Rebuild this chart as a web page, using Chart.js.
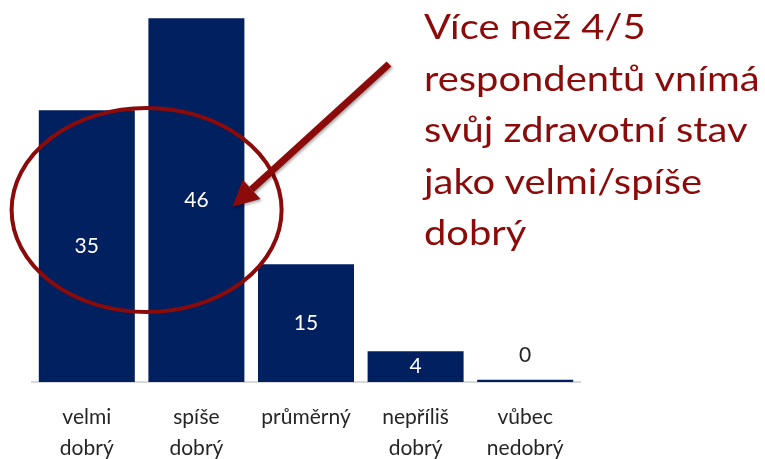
<!DOCTYPE html>
<html>
<head>
<meta charset="utf-8">
<script src="https://cdn.jsdelivr.net/npm/chart.js@4.4.0/dist/chart.umd.min.js"></script>
<style>
  html, body { margin: 0; padding: 0; background: #fff; }
  #wrap { position: relative; width: 765px; height: 459px; }
  #note {
    position: absolute; left: 424px; top: 0px;
    font-family: Lato, sans-serif; font-size: 35px; line-height: 51.5px;
    color: #8b0a0a; white-space: nowrap;
    transform: scaleX(1.14); transform-origin: left top;
  }
</style>
</head>
<body>
<div id="wrap">
  <canvas id="healthChart" width="765" height="459"></canvas>
  <div id="note">Více než 4/5<br>respondentů vnímá<br>svůj zdravotní stav<br>jako velmi/spíše<br>dobrý</div>
</div>
<script>
const categories = [['velmi', 'dobrý'], ['spíše', 'dobrý'], ['průměrný'], ['nepříliš', 'dobrý'], ['vůbec', 'nedobrý']];
const shares = [34.6, 46.3, 15.0, 3.9, 0.3];

const NAVY = '#002060';
const DARK_RED = '#8b0a0a';

// value labels (white inside bars, dark above the tiny one)
const barLabels = {
  id: 'barLabels',
  afterDatasetsDraw(chart) {
    const { ctx } = chart;
    const meta = chart.getDatasetMeta(0);
    ctx.save();
    ctx.font = '21px Lato, sans-serif';
    ctx.textAlign = 'center';
    ctx.textBaseline = 'middle';
    meta.data.forEach((bar, i) => {
      const v = shares[i];
      const txt = String(Math.round(v));
      if (v < 2) {
        ctx.fillStyle = '#262626';
        ctx.fillText(txt, bar.x, bar.y - 24);
      } else {
        ctx.fillStyle = '#ffffff';
        ctx.fillText(txt, bar.x, (bar.y + bar.base) / 2);
      }
    });
    ctx.restore();
  },
};

// red ellipse around the first two bars + arrow pointing at it
const highlight = {
  id: 'highlight',
  afterDraw(chart) {
    const { ctx, scales: { x, y } } = chart;
    const cx = (x.getPixelForValue(0) + x.getPixelForValue(1)) / 2 + 5;
    const cy = y.getPixelForValue(21.9);
    ctx.save();
    ctx.strokeStyle = DARK_RED;
    ctx.lineWidth = 4;
    ctx.beginPath();
    ctx.ellipse(cx, cy, 135, 102, 0, 0, Math.PI * 2);
    ctx.stroke();

    const x0 = 389, y0 = 64;
    const x1 = x.getPixelForValue(1) + 36, y1 = y.getPixelForValue(22.3);
    const ang = Math.atan2(y1 - y0, x1 - x0);
    const headLen = 26, headW = 13;
    const bx = x1 - headLen * Math.cos(ang), by = y1 - headLen * Math.sin(ang);
    ctx.shadowColor = 'rgba(0,0,0,0.35)';
    ctx.shadowBlur = 3;
    ctx.shadowOffsetX = 1.5;
    ctx.shadowOffsetY = 1.5;
    ctx.lineWidth = 7;
    ctx.lineCap = 'butt';
    ctx.beginPath();
    ctx.moveTo(x0, y0);
    ctx.lineTo(bx, by);
    ctx.stroke();
    ctx.fillStyle = DARK_RED;
    ctx.beginPath();
    ctx.moveTo(x1, y1);
    ctx.lineTo(bx + headW * Math.sin(ang), by - headW * Math.cos(ang));
    ctx.lineTo(bx - headW * Math.sin(ang), by + headW * Math.cos(ang));
    ctx.closePath();
    ctx.fill();
    ctx.restore();
  },
};

new Chart(document.getElementById('healthChart'), {
  type: 'bar',
  data: {
    labels: categories,
    datasets: [{
      data: shares,
      backgroundColor: NAVY,
      borderWidth: 0,
      barPercentage: 0.876,
      categoryPercentage: 1,
    }],
  },
  options: {
    responsive: false,
    animation: false,
    layout: { padding: { left: 32, right: 185, top: 5, bottom: 0 } },
    plugins: { legend: { display: false }, tooltip: { enabled: false } },
    scales: {
      x: {
        grid: { display: false },
        border: { color: '#d9d9d9', width: 2 },
        ticks: {
          color: '#262626',
          font: { family: 'Lato', size: 21, lineHeight: 1.5 },
          padding: 11,
          maxRotation: 0,
        },
        afterFit: (scale) => { scale.height = 77; },
      },
      y: { display: false, min: 0, max: 48 },
    },
  },
  plugins: [barLabels, highlight],
});
</script>
</body>
</html>
